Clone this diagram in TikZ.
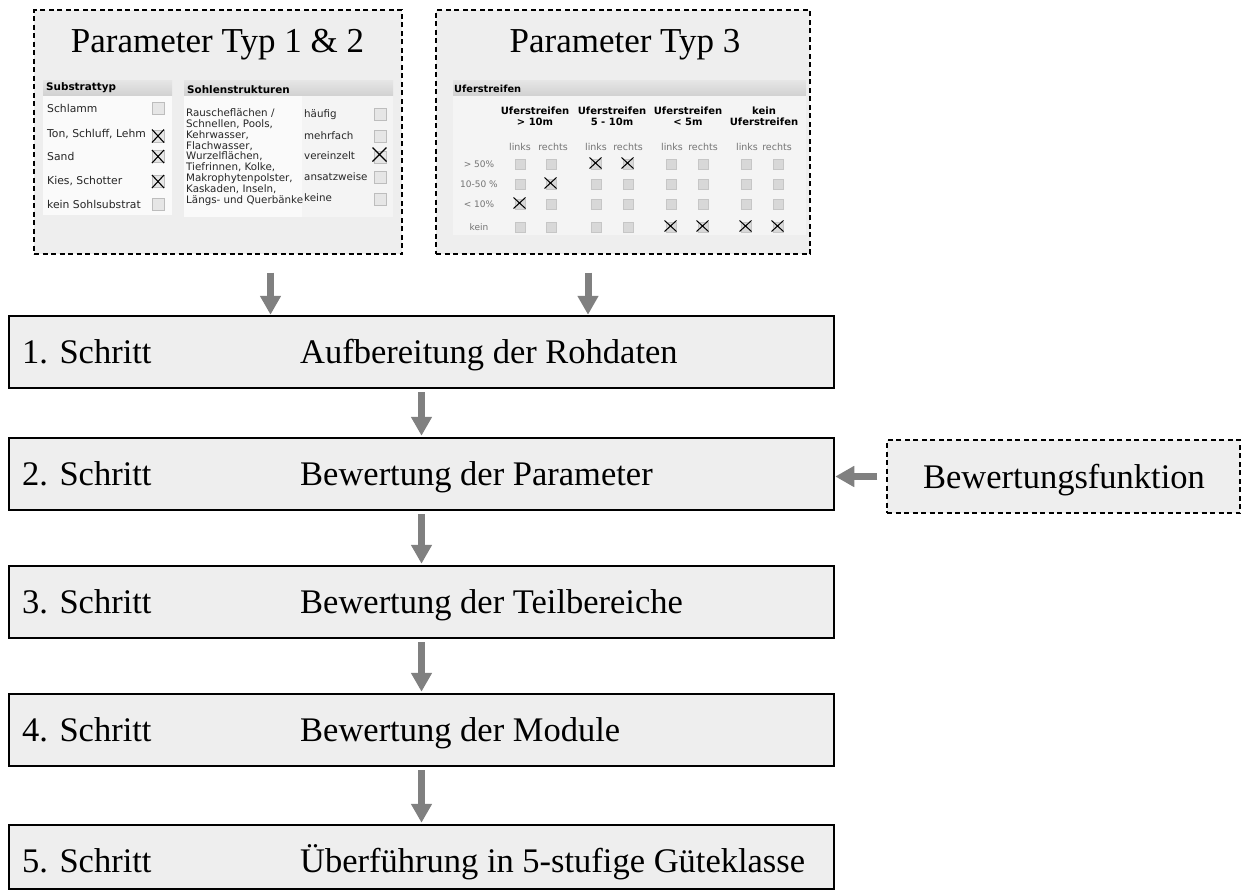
\documentclass[tikz,border=0pt]{standalone}
\usepackage{fontspec}
\setmainfont{Liberation Serif}
\newfontfamily\vf{DejaVu Sans}
\usetikzlibrary{arrows.meta,calc}
\definecolor{panelfill}{HTML}{EEEEEE}
\definecolor{arrgray}{HTML}{808080}
\definecolor{hdrtop}{HTML}{E6E6E6}
\definecolor{hdrbot}{HTML}{D2D2D2}
\definecolor{bodyfill}{HTML}{F4F4F4}
\definecolor{bodylight}{HTML}{FAFAFA}
\definecolor{cbfill}{HTML}{E6E6E6}
\definecolor{cbdraw}{HTML}{BDBDBD}
\definecolor{cbfillB}{HTML}{D8D8D8}
\definecolor{cbdrawB}{HTML}{C6C6C6}
\definecolor{lbl}{HTML}{747474}
\definecolor{smtxt}{HTML}{262626}
\tikzset{
  dpanel/.style={draw=black, fill=panelfill, line width=1.2pt, dash pattern=on 5pt off 3.5pt, inner sep=0pt},
  stepbox/.style={draw=black, fill=panelfill, line width=2.5pt, minimum width=825pt, inner sep=0pt},
  steptext/.style={font=\fontsize{34.5}{40}\selectfont, inner sep=0pt, anchor=base west},
  titletext/.style={font=\fontsize{35}{40}\selectfont, inner sep=0pt, anchor=base},
  arr/.style={draw=arrgray, line width=7pt, -{Triangle[width=20pt,length=19pt]}},
  hdr/.style={font=\vf\bfseries\fontsize{10.4}{11}\selectfont, text=black, inner sep=0pt, anchor=west},
  sm/.style={font=\vf\fontsize{10.8}{10.9}\selectfont, text=smtxt, inner sep=0pt, anchor=west},
  hdrB/.style={font=\vf\bfseries\fontsize{10}{11}\selectfont, text=black, inner sep=0pt, align=center},
  smB/.style={font=\vf\fontsize{9.5}{10}\selectfont, text=lbl, inner sep=0pt},
  cbA/.style={fill=cbfill, draw=cbdraw, line width=0.6pt},
  cbB/.style={fill=cbfillB, draw=cbdrawB, line width=0.5pt},
  xmark/.style={draw=black, line width=1.1pt},
  hdrbar/.style={top color=hdrtop, bottom color=hdrbot}
}
\begin{document}
\begin{tikzpicture}[x=1pt,y=-1pt]
\useasboundingbox (0,0) rectangle (1245,892);

% ---------- dashed panels ----------
\node[dpanel, minimum width=368pt, minimum height=244pt] (p1) at (218,132) {};
\node[dpanel, minimum width=374pt, minimum height=244pt] (p2) at (623,132) {};
\node[titletext] (t1) at (217.5,52) {Parameter Typ 1 \& 2};
\node[titletext] (t2) at (625,52) {Parameter Typ 3};

% ---------- Substrattyp ----------
\fill[bodylight] (43,95) rectangle (172,215);
\shade[hdrbar] (43,80) rectangle (172,95);
\node[hdr] (hs) at (46,88) {Substrattyp};
\foreach \t/\y [count=\i] in {Schlamm/108.5, {Ton, Schluff, Lehm}/134, Sand/156.5, {Kies, Schotter}/181, {kein Sohlsubstrat}/204.5}{
  \node[sm] (sa\i) at (47,\y) {\t};
}
\foreach \y in {108.5,136,156.5,181.5,204.5}{
  \draw[cbA] ({158.5-6},{\y-6}) rectangle ({158.5+6},{\y+6});
}
\foreach \y in {136,156.5,181.5}{
  \draw[xmark] ({158-6},{\y-6.5}) -- ({158+6},{\y+6.5}) ({158-6},{\y+6.5}) -- ({158+6},{\y-6.5});
}

% ---------- Sohlenstrukturen ----------
\fill[bodyfill] (184,95) rectangle (393,217);
\fill[bodylight] (184,95) rectangle (302,217);
\shade[hdrbar] (184,80) rectangle (393,95);
\node[hdr] (hso) at (187,90) {Sohlenstrukturen};
\foreach \t [count=\i] in {Rauscheflächen /, {Schnellen, Pools,}, {Kehrwasser,}, {Flachwasser,}, {Wurzelflächen,}, {Tiefrinnen, Kolke,}, {Makrophytenpolster,}, {Kaskaden, Inseln,}, {Längs- und Querbänke}}{
  \node[sm, font=\vf\fontsize{10.3}{10.9}\selectfont] (sl\i) at (186,{113+10.9*(\i-1)}) {\t};
}
\foreach \t/\y [count=\i] in {häufig/115, mehrfach/136, vereinzelt/156, ansatzweise/177, keine/198}{
  \node[sm, font=\vf\fontsize{10.3}{10.9}\selectfont] (sr\i) at (304,\y) {\t};
}
\foreach \y in {114,136,157,177,199}{
  \draw[cbA] ({380-6},{\y-6}) rectangle ({380+6},{\y+6});
}
\draw[xmark] ({379.5-7},{154.5-7}) -- ({379.5+7},{154.5+7}) ({379.5-7},{154.5+7}) -- ({379.5+7},{154.5-7});

% ---------- Uferstreifen ----------
\fill[bodyfill] (453,95) rectangle (806,235);
\shade[hdrbar] (453,80) rectangle (806,95);
\node[hdr, font=\vf\bfseries\fontsize{9.8}{11}\selectfont] (hu) at (454,89) {Uferstreifen};
\node[hdrB] (c1) at (535,116.5) {Uferstreifen\\> 10m};
\node[hdrB] (c2) at (612,116.5) {Uferstreifen\\5 - 10m};
\node[hdrB] (c3) at (688,116.5) {Uferstreifen\\< 5m};
\node[hdrB] (c4) at (764,116.5) {kein\\Uferstreifen};
\foreach \x/\t [count=\i] in {520/links, 553/rechts, 596/links, 628/rechts, 672/links, 703/rechts, 747/links, 777/rechts}{
  \node[smB] (lr\i) at (\x,147) {\t};
}
\foreach \t/\y [count=\i] in {> 50\%/164, 10-50 \%/184, < 10\%/204, kein/227}{
  \node[smB, font=\vf\fontsize{9}{10}\selectfont] (rl\i) at (479,\y) {\t};
}
\foreach \y in {164,184,204,227}{
  \foreach \x in {520,551,596,628,671,703,746,778}{
    \draw[cbB] ({\x-5},{\y-5}) rectangle ({\x+5},{\y+5});
  }
}
\foreach \x/\y in {596/164, 628/164, 551/184, 520/204, 671/227, 703/227, 746/227, 778/227}{
  \draw[xmark, line width=1pt] ({\x-6.5},{\y-6.5}) -- ({\x+5.5},{\y+4.5}) ({\x-6.5},{\y+4.5}) -- ({\x+5.5},{\y-6.5});
}

% ---------- steps ----------
\node[stepbox, minimum height=72pt] (s1) at (421.5,352) {};
\node[stepbox, minimum height=72pt] (s2) at (421.5,474) {};
\node[stepbox, minimum height=72pt] (s3) at (421.5,602) {};
\node[stepbox, minimum height=72pt] (s4) at (421.5,730) {};
\node[stepbox, minimum height=64pt] (s5) at (421.5,857) {};

\node[steptext] (s1a) at (22,363.5) {1. Schritt};
\node[steptext] (s1b) at (300,363.5) {Aufbereitung der Rohdaten};
\node[steptext] (s2a) at (22,485.5) {2. Schritt};
\node[steptext] (s2b) at (300,485.5) {Bewertung der Parameter};
\node[steptext] (s3a) at (22,613.5) {3. Schritt};
\node[steptext] (s3b) at (300,613.5) {Bewertung der Teilbereiche};
\node[steptext] (s4a) at (22,741.5) {4. Schritt};
\node[steptext] (s4b) at (300,741.5) {Bewertung der Module};
\node[steptext] (s5a) at (22,872) {5. Schritt};
\node[steptext] (s5b) at (300,872) {Überführung in 5-stufige Güteklasse};

% ---------- Bewertungsfunktion ----------
\node[dpanel, minimum width=353pt, minimum height=73pt] (bf) at (1063.5,476.5) {};
\node[titletext, font=\fontsize{34.5}{40}\selectfont] (bft) at (1064,488) {Bewertungsfunktion};

% ---------- arrows ----------
\coordinate (ax1) at (270.5,0);
\coordinate (ax2) at (588,0);
\draw[arr, shorten <=18pt] (ax1 |- p1.south) -- (ax1 |- s1.north);
\draw[arr, shorten <=18pt] (ax2 |- p2.south) -- (ax2 |- s1.north);
\draw[arr, shorten <=3pt, shorten >=1pt] (s1.south) -- (s2.north);
\draw[arr, shorten <=3pt, shorten >=1pt] (s2.south) -- (s3.north);
\draw[arr, shorten <=3pt, shorten >=1pt] (s3.south) -- (s4.north);
\draw[arr, shorten <=3pt, shorten >=1pt] (s4.south) -- (s5.north);
\draw[arr, shorten <=9pt] (bf.west) -- (bf.west -| s2.east);
\end{tikzpicture}
\end{document}
